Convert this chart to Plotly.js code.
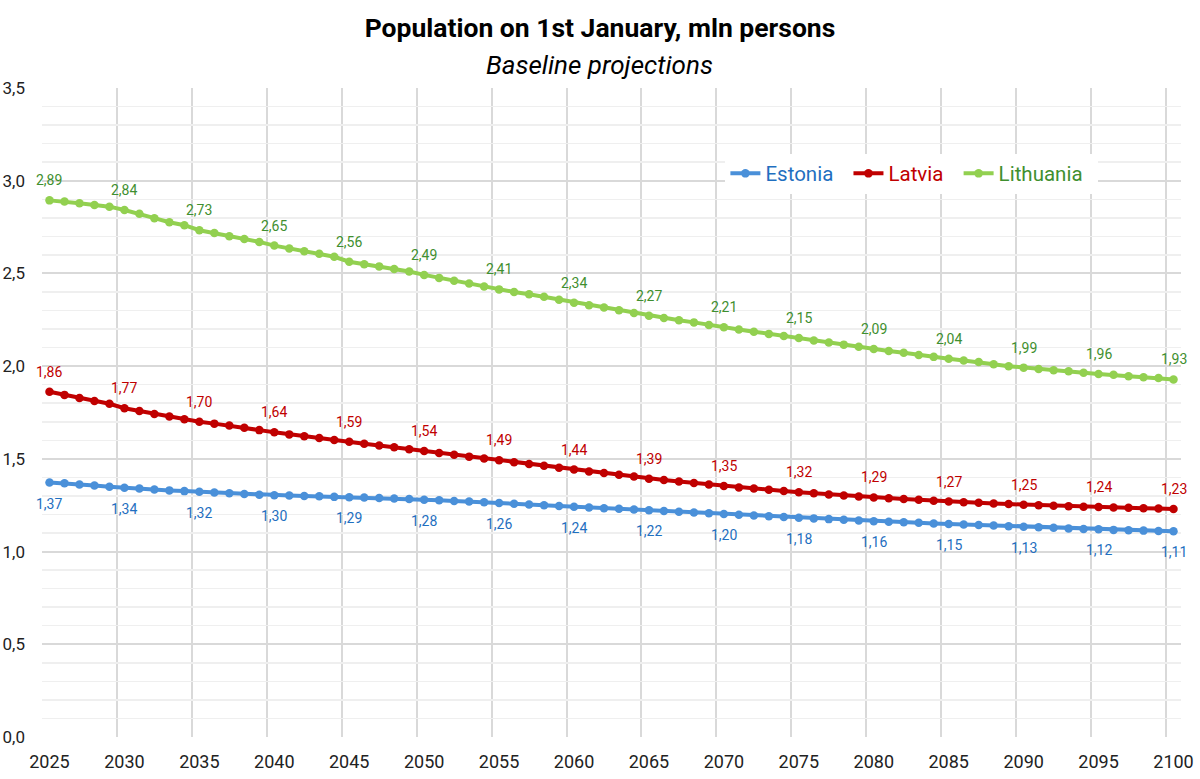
<!DOCTYPE html>
<html>
<head>
<meta charset="utf-8">
<script src="https://cdn.plot.ly/plotly-3.0.1.min.js"></script>
<style>
  html, body { margin: 0; padding: 0; background: #ffffff; }
  #chart { width: 1200px; height: 779px; }
</style>
</head>
<body>
<div id="chart"></div>
<script>
var years = [];
for (var yr = 2025; yr <= 2100; yr++) { years.push(yr); }

var labelYears = [2025, 2030, 2035, 2040, 2045, 2050, 2055, 2060, 2065, 2070, 2075, 2080, 2085, 2090, 2095, 2100];
var gridYears = [2029.5, 2034.5, 2039.5, 2044.5, 2049.5, 2054.5, 2059.5, 2064.5, 2069.5, 2074.5, 2079.5, 2084.5, 2089.5, 2094.5, 2099.5];

var estonia = [
  1.372, 1.368, 1.362, 1.356, 1.350, 1.344, 1.340, 1.335, 1.330, 1.326,
  1.322, 1.318, 1.314, 1.310, 1.307, 1.304, 1.302, 1.300, 1.298, 1.295,
  1.293, 1.291, 1.289, 1.286, 1.283, 1.280, 1.277, 1.273, 1.270, 1.266,
  1.262, 1.258, 1.254, 1.250, 1.246, 1.242, 1.238, 1.234, 1.231, 1.227,
  1.223, 1.219, 1.215, 1.211, 1.207, 1.203, 1.199, 1.195, 1.191, 1.187,
  1.183, 1.179, 1.175, 1.172, 1.168, 1.164, 1.161, 1.158, 1.155, 1.152,
  1.149, 1.146, 1.143, 1.140, 1.137, 1.134, 1.131, 1.128, 1.125, 1.122,
  1.120, 1.117, 1.115, 1.113, 1.111, 1.109
];

var latvia = [
  1.862, 1.845, 1.828, 1.812, 1.797, 1.773, 1.758, 1.742, 1.728, 1.714,
  1.700, 1.690, 1.680, 1.668, 1.655, 1.643, 1.632, 1.622, 1.612, 1.602,
  1.592, 1.582, 1.572, 1.562, 1.552, 1.542, 1.532, 1.522, 1.512, 1.502,
  1.492, 1.482, 1.472, 1.463, 1.452, 1.442, 1.432, 1.424, 1.414, 1.405,
  1.393, 1.386, 1.378, 1.370, 1.362, 1.354, 1.346, 1.340, 1.333, 1.327,
  1.320, 1.314, 1.308, 1.303, 1.297, 1.292, 1.288, 1.283, 1.279, 1.274,
  1.270, 1.266, 1.263, 1.259, 1.256, 1.253, 1.250, 1.247, 1.245, 1.242,
  1.240, 1.238, 1.236, 1.234, 1.232, 1.230
];

var lithuania = [
  2.894, 2.888, 2.878, 2.869, 2.860, 2.842, 2.822, 2.798, 2.776, 2.760,
  2.733, 2.718, 2.700, 2.686, 2.670, 2.650, 2.634, 2.620, 2.606, 2.590,
  2.563, 2.550, 2.538, 2.524, 2.510, 2.492, 2.476, 2.460, 2.446, 2.430,
  2.414, 2.400, 2.388, 2.374, 2.358, 2.342, 2.328, 2.316, 2.302, 2.286,
  2.272, 2.260, 2.248, 2.236, 2.222, 2.210, 2.198, 2.186, 2.174, 2.162,
  2.152, 2.138, 2.128, 2.116, 2.104, 2.092, 2.082, 2.072, 2.060, 2.050,
  2.040, 2.030, 2.022, 2.010, 2.000, 1.992, 1.984, 1.978, 1.972, 1.964,
  1.958, 1.954, 1.946, 1.940, 1.936, 1.928
];

var seriesNames = ['Estonia', 'Latvia', 'Lithuania'];
var lineColors = ['#4a90d9', '#c00000', '#92d050'];
var textColors = ['#1f6fc0', '#c00000', '#3f8f2f'];
var labelShift = [-21, 20, 20];
var seriesData = [estonia, latvia, lithuania];

var FONT = 'Roboto, "Liberation Sans", Arial, sans-serif';

function fmt(v) { return v.toFixed(2).replace('.', ','); }

var traces = seriesData.map(function (vals, i) {
  return {
    type: 'scatter',
    mode: 'lines+markers',
    x: years,
    y: vals,
    name: '<span style="color:' + textColors[i] + '">' + seriesNames[i] + '</span>&nbsp;&nbsp;',
    line: { color: lineColors[i], width: 4 },
    marker: { color: lineColors[i], size: 8.5 },
    hoverinfo: 'x+y'
  };
});

var annotations = [];
seriesData.forEach(function (vals, i) {
  labelYears.forEach(function (ly) {
    var idx = years.indexOf(ly);
    annotations.push({
      x: ly, y: vals[idx], xref: 'x', yref: 'y',
      text: fmt(vals[idx]),
      showarrow: false,
      yshift: labelShift[i],
      font: { family: FONT, size: 14, color: textColors[i] }
    });
  });
});

annotations.push({
  xref: 'paper', yref: 'paper', x: 0.4899, y: 1.0355,
  xanchor: 'center', yanchor: 'middle', showarrow: false,
  text: '<i>Baseline projections</i>',
  font: { family: FONT, size: 26, color: '#000000' }
});

var layout = {
  width: 1200, height: 779,
  paper_bgcolor: '#ffffff', plot_bgcolor: '#ffffff',
  separators: ', ',
  margin: { l: 41.5, r: 18.5, t: 88, b: 42 },
  font: { family: FONT, color: '#333333' },
  title: {
    text: '<b>Population on 1st January, mln persons</b>',
    font: { family: FONT, size: 26.5, color: '#000000' },
    x: 0.5, xref: 'container', xanchor: 'center',
    y: 0.9645, yref: 'container', yanchor: 'middle'
  },
  xaxis: {
    range: [2024.5, 2100.5],
    tickmode: 'array', tickvals: labelYears,
    showgrid: false, zeroline: false, showline: false,
    ticks: '', ticklabelstandoff: 12,
    tickfont: { family: FONT, size: 18, color: '#222222' },
    minor: { tickmode: 'array', tickvals: gridYears, showgrid: true, gridcolor: '#d9d9d9', gridwidth: 2, ticks: '' },
    fixedrange: true
  },
  yaxis: {
    range: [0, 3.5], dtick: 0.5, tick0: 0, tickformat: '.1f',
    showgrid: true, gridcolor: '#d9d9d9', gridwidth: 2,
    zeroline: false, showline: false, ticks: '', ticklabelstandoff: 16,
    tickfont: { family: FONT, size: 17, color: '#222222' },
    minor: { dtick: 0.1, tick0: 0, showgrid: true, gridcolor: '#efefef', gridwidth: 1.5, ticks: '' },
    fixedrange: true
  },
  legend: {
    orientation: 'h',
    x: 0.6, y: 0.899, xanchor: 'left', yanchor: 'top',
    bgcolor: '#ffffff', borderwidth: 0,
    font: { family: FONT, size: 20.5 },
    itemclick: false, itemdoubleclick: false
  },
  annotations: annotations,
  showlegend: true
};

Plotly.newPlot('chart', traces, layout, { displayModeBar: false, staticPlot: true });
</script>
</body>
</html>
